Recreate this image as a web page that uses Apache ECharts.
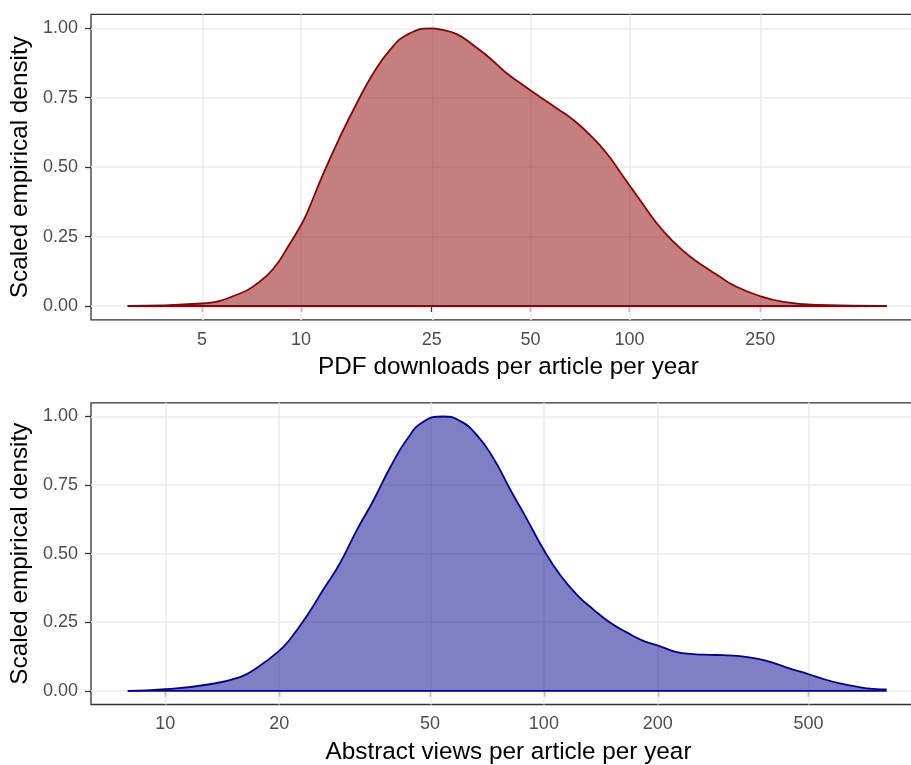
<!DOCTYPE html>
<html>
<head>
<meta charset="utf-8">
<script src="https://cdn.jsdelivr.net/npm/echarts@6/dist/echarts.min.js"></script>
<style>
html,body{margin:0;padding:0;background:#fff;overflow:hidden;width:911px;height:765px;}
#chart{width:930px;height:765px;}
</style>
</head>
<body>
<div id="chart"></div>
<script>
// ---- data ----
// Top panel: PDF downloads per article per year
const pdfX = [2.97, 4.99, 6.53, 7.34, 8.24, 9.26, 10.0, 10.42, 11.7, 13.15, 14.79, 16.61, 18.67, 20.99, 25.0, 26.5, 29.8, 33.5, 37.6, 42.3, 47.5, 53.4, 60.0, 67.5, 75.8, 85.2, 95.7, 107.6, 121.0, 135.9, 152.8, 171.8, 188.6, 207.0, 248.9, 293.8, 371.3, 606.4];
const pdfY = [0.0, 0.009, 0.045, 0.080, 0.134, 0.225, 0.291, 0.333, 0.477, 0.609, 0.730, 0.838, 0.922, 0.976, 1.0, 0.996, 0.979, 0.939, 0.892, 0.838, 0.795, 0.753, 0.712, 0.670, 0.616, 0.550, 0.466, 0.382, 0.298, 0.232, 0.178, 0.136, 0.105, 0.075, 0.036, 0.015, 0.004, 0.0];
const pdfTicks = [5, 10, 25, 50, 100, 250];

// Bottom panel: Abstract views per article per year
const absX = [7.96, 10, 12.86, 15.75, 17.43, 20.0, 21.35, 23.63, 26.15, 28.93, 32.03, 35.43, 39.22, 43.41, 48.03, 54.24, 60.03, 66.45, 73.5, 81.4, 90.1, 100, 110.3, 122.1, 135.0, 149.5, 165.5, 183.0, 200.5, 224.3, 248.1, 274.6, 297.8, 329.6, 364.9, 403.6, 446.7, 499.3, 547.0, 605.4, 670.2, 741.3, 804.3];
const absY = [0.0, 0.006, 0.022, 0.050, 0.083, 0.146, 0.188, 0.272, 0.369, 0.465, 0.585, 0.693, 0.813, 0.915, 0.981, 1.0, 0.984, 0.933, 0.849, 0.735, 0.627, 0.513, 0.423, 0.351, 0.297, 0.249, 0.213, 0.182, 0.165, 0.141, 0.134, 0.131, 0.130, 0.126, 0.117, 0.102, 0.081, 0.061, 0.043, 0.027, 0.015, 0.007, 0.005];
const absTicks = [10, 20, 50, 100, 200, 500];

const yTicks = [0, 0.25, 0.5, 0.75, 1.0];

const titles = {
  yName: 'Scaled empirical density',
  pdfName: 'PDF downloads per article per year',
  absName: 'Abstract views per article per year'
};

// ---- build ----
const L = Math.log10;
const chart = echarts.init(document.getElementById('chart'), null, {renderer: 'canvas'});
const FONT = 'Liberation Sans, Arial, sans-serif';
const tickFont = 18;
const titleFont = 24.3;

function xAxisFor(gridIndex, ticks, min, max, name) {
  return {
    type: 'value', gridIndex, min, max, name,
    nameLocation: 'middle', nameGap: 35.5,
    nameTextStyle: {color: '#000', fontSize: titleFont, fontFamily: FONT},
    axisLine: {show: false},
    axisTick: {show: true, customValues: ticks.map(L), length: 6, lineStyle: {color: '#333333', width: 1.3}},
    axisLabel: {show: true, customValues: ticks.map(L), margin: 11, color: '#4D4D4D', fontSize: tickFont, fontFamily: FONT,
      formatter: v => String(Math.round(Math.pow(10, v)))},
    splitLine: {show: false}
  };
}
function yAxisFor(gridIndex) {
  return {
    type: 'value', gridIndex, min: -0.05, max: 1.05,
    name: titles.yName, nameLocation: 'middle', nameGap: 50,
    nameTextStyle: {color: '#000', fontSize: titleFont, fontFamily: FONT},
    axisLine: {show: false},
    axisTick: {show: true, customValues: yTicks, length: 6, lineStyle: {color: '#333333', width: 1.3}},
    axisLabel: {show: true, customValues: yTicks, margin: 13, color: '#4D4D4D', fontSize: tickFont, fontFamily: FONT,
      formatter: v => v.toFixed(2)},
    splitLine: {show: false}
  };
}
function gridLines(idx, ticks) {
  return {
    type: 'line', xAxisIndex: idx, yAxisIndex: idx, data: [], z: 1, silent: true,
    markLine: {
      silent: true, symbol: ['none', 'none'], animation: false, z: 1,
      label: {show: false},
      emphasis: {disabled: true},
      lineStyle: {color: '#EBEBEB', width: 1.5, type: 'solid'},
      data: ticks.map(t => ({xAxis: L(t)})).concat(yTicks.map(v => ({yAxis: v})))
    }
  };
}
function densitySeries(idx, xs, ys, color, fill) {
  return {
    type: 'line', xAxisIndex: idx, yAxisIndex: idx, z: 10,
    data: xs.map((x, i) => [L(x), ys[i]]),
    smooth: 0.5, showSymbol: false, symbol: 'none', animation: false,
    lineStyle: {color, width: 1.8},
    areaStyle: {color: fill, opacity: 1, origin: 0}
  };
}
function baseline(idx, xs, color) {
  return {
    type: 'line', xAxisIndex: idx, yAxisIndex: idx, z: 11,
    data: [[L(xs[0]), 0], [L(xs[xs.length - 1]), 0]],
    showSymbol: false, symbol: 'none', animation: false,
    lineStyle: {color, width: 1.8}
  };
}

const option = {
  backgroundColor: '#fff',
  animation: false,
  grid: [
    {left: 91, top: 14.4, width: 835, height: 305.5, show: true, borderColor: '#333333', borderWidth: 1.3, backgroundColor: '#fff'},
    {left: 91, top: 402.8, width: 835, height: 305.4, show: true, borderColor: '#333333', borderWidth: 1.3, backgroundColor: '#fff'}
  ],
  xAxis: [
    xAxisFor(0, pdfTicks, 0.3612, 2.9023, titles.pdfName),
    xAxisFor(1, absTicks, 0.8038, 3.0093, titles.absName)
  ],
  yAxis: [yAxisFor(0), yAxisFor(1)],
  series: [
    gridLines(0, pdfTicks),
    densitySeries(0, pdfX, pdfY, '#8B0000', 'rgba(139,0,0,0.5)'),
    baseline(0, pdfX, '#8B0000'),
    gridLines(1, absTicks),
    densitySeries(1, absX, absY, '#00008B', 'rgba(0,0,139,0.5)'),
    baseline(1, absX, '#00008B')
  ]
};
chart.setOption(option);
</script>
</body>
</html>
